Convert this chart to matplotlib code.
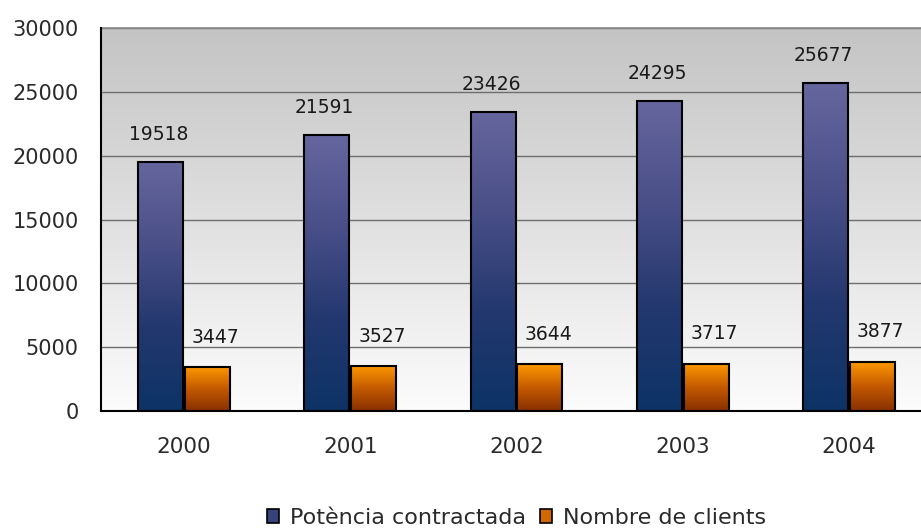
import numpy as np
import matplotlib
matplotlib.use("Agg")
import matplotlib.pyplot as plt
from matplotlib.colors import LinearSegmentedColormap
from matplotlib.patches import Patch

years = ["2000", "2001", "2002", "2003", "2004"]
potencia = [19518, 21591, 23426, 24295, 25677]
clients = [3447, 3527, 3644, 3717, 3877]
series_names = ["Potència contractada", "Nombre de clients"]

plt.rcParams['font.family'] = ['DejaVu Sans']

fig = plt.figure(figsize=(9.21, 5.29), dpi=100)
ax = fig.add_axes([101/921, 1-411/529, 831/921, (411-28)/529])

# background gradient
bg = LinearSegmentedColormap.from_list("bg", ["#fcfcfc", "#c4c4c4"])
grad = np.linspace(0, 1, 256).reshape(-1, 1)
ax.imshow(grad, cmap=bg, origin="lower", extent=[0, 1, 0, 1], transform=ax.transAxes,
          aspect="auto", zorder=0)

blue_cm = LinearSegmentedColormap.from_list("bl", ["#0d3366", "#23386e", "#4a4f88", "#66669e"])
orange_cm = LinearSegmentedColormap.from_list("or", ["#883000", "#c45a00", "#ff9a00"])

x = np.arange(len(years))
w = 0.27
off = 0.141

for series, cm, sign in [(potencia, blue_cm, -1), (clients, orange_cm, 1)]:
    for xi, v in zip(x, series):
        cx = xi + sign * off
        ax.imshow(grad, cmap=cm, origin="lower", extent=[cx - w/2, cx + w/2, 0, v],
                  aspect="auto", zorder=2)
    ax.bar(x + sign * off, series, width=w, facecolor="none", edgecolor="black",
           linewidth=1.5, zorder=3)

for xi, v in zip(x, potencia):
    ax.annotate(str(v), (xi - off, v), xytext=(-1.5, 13), textcoords="offset points",
                ha="center", va="bottom", fontsize=13.5, color="#1a1a1a")
for xi, v in zip(x, clients):
    ax.annotate(str(v), (xi + off, v), xytext=(6, 14.5), textcoords="offset points",
                ha="center", va="bottom", fontsize=13.5, color="#1a1a1a")

ax.set_xlim(-0.5, 4.5)
ax.set_ylim(0, 30000)
ax.set_yticks(range(0, 30001, 5000))
ax.set_xticks(x)
ax.set_xticklabels(years)
ax.tick_params(axis="y", length=0, pad=16, labelsize=15, labelcolor="#2a2a2a")
ax.tick_params(axis="x", length=0, pad=19, labelsize=15.5, labelcolor="#2a2a2a")
ax.set_axisbelow(True)
ax.grid(axis="y", color="#6e6e6e", linewidth=1.0)
for sp in ("left", "bottom"):
    ax.spines[sp].set_color("black")
    ax.spines[sp].set_linewidth(1.5)
    ax.spines[sp].set_zorder(4)
ax.spines["top"].set_color("#8a8a8a")
ax.spines["top"].set_linewidth(1.2)
ax.spines["right"].set_visible(False)

handles = [Patch(facecolor="#36427a", edgecolor="black", linewidth=1.2),
           Patch(facecolor="#d06800", edgecolor="black", linewidth=1.2)]
leg = ax.legend(handles, series_names, loc="center",
                bbox_to_anchor=(0.5, -(518 - 411) / 383),
                ncol=2, frameon=False, fontsize=16, handlelength=0.55, handleheight=0.55,
                handletextpad=0.5, columnspacing=0.6, borderpad=0)
for t in leg.get_texts():
    t.set_color("#2a2a2a")

fig.savefig("out.png", dpi=100)
